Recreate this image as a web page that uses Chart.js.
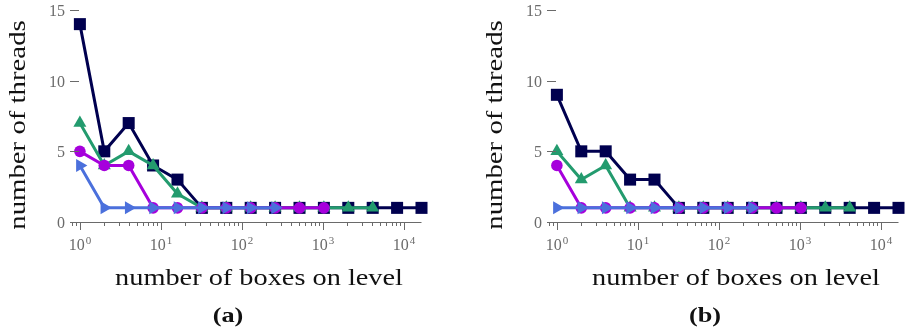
<!DOCTYPE html>
<html>
<head>
<meta charset="utf-8">
<script src="https://cdn.jsdelivr.net/npm/chart.js@4/dist/chart.umd.min.js"></script>
<style>
  html, body { margin: 0; padding: 0; background: #fff; }
  #wrap { position: relative; width: 907px; height: 330px; overflow: hidden; }
  canvas { position: absolute; top: 0; }
</style>
</head>
<body>
<div id="wrap">
  <canvas id="chartA" width="430" height="330" style="left:0px"></canvas>
  <canvas id="chartB" width="430" height="330" style="left:477px"></canvas>
</div>
<script>
// ---- data ----
const boxes = [1, 2, 4, 8, 16, 32, 64, 128, 256, 512, 1024, 2048, 4096, 8192, 16384];

const aNavy   = [14, 5, 7, 4, 3, 1, 1, 1, 1, 1, 1, 1, 1, 1, 1];
const aGreen  = [7, 4, 5, 4, 2, 1, 1, 1, 1, 1, 1, 1, 1];
const aPurple = [5, 4, 4, 1, 1, 1, 1, 1, 1, 1, 1];
const aBlue   = [4, 1, 1, 1, 1, 1, 1, 1, 1];

const bNavy   = [9, 5, 5, 3, 3, 1, 1, 1, 1, 1, 1, 1, 1, 1, 1];
const bGreen  = [5, 3, 4, 1, 1, 1, 1, 1, 1, 1, 1, 1, 1];
const bPurple = [4, 1, 1, 1, 1, 1, 1, 1, 1, 1, 1];
const bBlue   = [1, 1, 1, 1, 1, 1, 1, 1, 1];

const yTicks = [0, 5, 10, 15];
const xMajorExps = [0, 1, 2, 3, 4];
const xTitle = 'number of boxes on level';
const yTitle = 'number of threads';

// ---- styles ----
const NAVY = '#00004f';
const GREEN = '#239b6e';
const PURPLE = '#a600dc';
const BLUE = '#4b70dc';
const GRAY = '#6a6a6a';
const SERIF = '"Liberation Serif", "Times New Roman", serif';

function pts(vals) { return vals.map((v, i) => ({ x: boxes[i], y: v })); }

function makeDatasets(navy, green, purple, blue) {
  return [
    { data: pts(blue), borderColor: BLUE, backgroundColor: BLUE, borderWidth: 3,
      pointStyle: 'triangle', rotation: 90, pointRadius: 7.5, pointBorderWidth: 0, order: 0 },
    { data: pts(purple), borderColor: PURPLE, backgroundColor: PURPLE, borderWidth: 3,
      pointStyle: 'circle', pointRadius: 5.8, pointBorderWidth: 0, order: 1 },
    { data: pts(green), borderColor: GREEN, backgroundColor: GREEN, borderWidth: 3,
      pointStyle: 'triangle', pointRadius: 7.5, pointBorderWidth: 0, order: 2 },
    { data: pts(navy), borderColor: NAVY, backgroundColor: NAVY, borderWidth: 3,
      pointStyle: 'rect', pointRadius: 8.5, pointBorderWidth: 0, order: 3 }
  ];
}

function scaledText(ctx, text, x, y, font, sx, align, baseline, color, rot) {
  ctx.save();
  ctx.translate(x, y);
  if (rot) ctx.rotate(rot);
  ctx.scale(sx, 1);
  ctx.font = font;
  ctx.fillStyle = color;
  ctx.textAlign = align;
  ctx.textBaseline = baseline;
  ctx.fillText(text, 0, 0);
  ctx.restore();
}

function axesPlugin(label) {
  return {
    id: 'axesDecor',
    afterDraw(chart) {
      const ctx = chart.ctx;
      const ca = chart.chartArea;
      const xs = chart.scales.x, ys = chart.scales.y;
      ctx.save();
      ctx.strokeStyle = GRAY;
      ctx.lineWidth = 1;
      // x axis line
      ctx.beginPath();
      ctx.moveTo(ca.left, ca.bottom + 0.5);
      ctx.lineTo(ca.right, ca.bottom + 0.5);
      ctx.stroke();
      // x ticks
      const xmin = xs.min, xmax = xs.max;
      for (let e = -1; e <= 5; e++) {
        for (let k = 1; k <= 9; k++) {
          const v = k * Math.pow(10, e);
          if (v < xmin || v > xmax) continue;
          const px = Math.round(xs.getPixelForValue(v)) + 0.5;
          const len = (k === 1) ? 8 : 4;
          ctx.beginPath();
          ctx.moveTo(px, ca.bottom);
          ctx.lineTo(px, ca.bottom + len);
          ctx.stroke();
        }
      }
      // y ticks
      yTicks.forEach(t => {
        const py = Math.round(ys.getPixelForValue(t)) + 0.5;
        ctx.beginPath();
        ctx.moveTo(ca.left - 1, py);
        ctx.lineTo(ca.left + 8, py);
        ctx.stroke();
        scaledText(ctx, String(t), ca.left - 6, py + 1, '16px ' + SERIF, 1.0, 'right', 'middle', GRAY, 0);
      });
      // x tick labels 10^n
      xMajorExps.forEach(e => {
        const px = xs.getPixelForValue(Math.pow(10, e));
        ctx.font = '16px ' + SERIF;
        const wBase = ctx.measureText('10').width;
        ctx.font = '11px ' + SERIF;
        const wExp = ctx.measureText(String(e)).width;
        const left = px - (wBase + wExp + 1) / 2;
        ctx.fillStyle = GRAY;
        ctx.textAlign = 'left';
        ctx.textBaseline = 'alphabetic';
        ctx.font = '16px ' + SERIF;
        ctx.fillText('10', left, 250);
        ctx.font = '11px ' + SERIF;
        ctx.fillText(String(e), left + wBase + 1, 244);
      });
      // titles
      scaledText(ctx, xTitle, ca.left + 188, 285, '24px ' + SERIF, 1.18, 'center', 'alphabetic', '#111', 0);
      scaledText(ctx, yTitle, 19, 125, '24px ' + SERIF, 1.2, 'center', 'middle', '#111', -Math.PI / 2);
      scaledText(ctx, label, ca.left + 157, 322, 'bold 21px ' + SERIF, 1.25, 'center', 'alphabetic', '#111', 0);
      ctx.restore();
    }
  };
}

function makeChart(id, sets, label) {
  return new Chart(document.getElementById(id), {
    type: 'line',
    data: { datasets: sets },
    options: {
      responsive: false,
      animation: false,
      layout: { padding: { left: 71, right: 4, top: 10, bottom: 108 } },
      plugins: { legend: { display: false }, tooltip: { enabled: false } },
      elements: { line: { tension: 0, borderJoinStyle: 'miter' } },
      datasets: { line: { clip: false } },
      scales: {
        x: { type: 'logarithmic', min: 0.777, max: 16384, display: false },
        y: { type: 'linear', min: 0, max: 15, display: false }
      }
    },
    plugins: [axesPlugin(label)]
  });
}

makeChart('chartA', makeDatasets(aNavy, aGreen, aPurple, aBlue), '(a)');
makeChart('chartB', makeDatasets(bNavy, bGreen, bPurple, bBlue), '(b)');
</script>
</body>
</html>
